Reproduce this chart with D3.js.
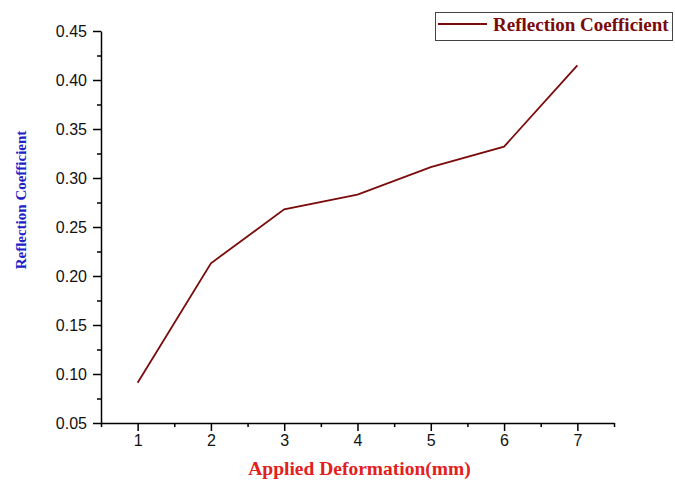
<!DOCTYPE html>
<html>
<head>
<meta charset="utf-8">
<script src="https://cdn.jsdelivr.net/npm/d3@7"></script>
<style>
  body { margin: 0; background: #fff; }
  svg { display: block; }
</style>
</head>
<body>
<script>
// data
const deformation = [1, 2, 3, 4, 5, 6, 7];
const reflection = [0.091, 0.213, 0.268, 0.283, 0.311, 0.332, 0.415];
const yTicks = [0.05, 0.10, 0.15, 0.20, 0.25, 0.30, 0.35, 0.40, 0.45];
const seriesName = "Reflection Coefficient";

const canvWidth = 675, canvHeight = 484;

const svg = d3.select("body").append("svg")
    .attr("width", canvWidth)
    .attr("height", canvHeight);

// plot area in pixels
const margin = {top: 31, right: 61, bottom: 61, left: 101};
const width = canvWidth - margin.left - margin.right;
const height = canvHeight - margin.top - margin.bottom;

const g = svg.append("g")
    .attr("transform", "translate(" + margin.left + "," + margin.top + ")");

const xScale = d3.scaleLinear().domain([0.5, 7.5]).range([0, width]);
const yScale = d3.scaleLinear().domain([0.05, 0.45]).range([height, 0]);

// minor ticks (halfway between majors)
const xMinor = d3.range(0.5, 7.51, 1);
const yMinor = d3.range(0.075, 0.45, 0.05);

g.append("g")
    .attr("transform", "translate(0," + height + ")")
    .call(d3.axisBottom(xScale).tickValues(xMinor).tickSize(4).tickFormat(""))
    .call(a => a.select(".domain").remove());

g.append("g")
    .call(d3.axisLeft(yScale).tickValues(yMinor).tickSize(4).tickFormat(""))
    .call(a => a.select(".domain").remove());

const xAxis = g.append("g")
    .attr("transform", "translate(0," + height + ")")
    .call(d3.axisBottom(xScale).tickValues(deformation).tickSize(8).tickSizeOuter(0).tickPadding(4).tickFormat(d3.format("d")));

const yAxis = g.append("g")
    .call(d3.axisLeft(yScale).tickValues(yTicks).tickSize(8).tickSizeOuter(0).tickPadding(6).tickFormat(d3.format(".2f")));

[xAxis, yAxis].forEach(a => {
  a.selectAll("path, line").attr("stroke", "#000").attr("stroke-width", 1.5);
  a.selectAll("text")
      .attr("fill", "#111")
      .attr("font-family", "Liberation Sans, Arial, sans-serif")
      .attr("font-size", "16px");
});
g.selectAll(".tick line").attr("stroke", "#000").attr("stroke-width", 1.5);

// the data line
const line = d3.line()
    .x((d, i) => xScale(deformation[i]))
    .y(d => yScale(d));

g.append("path")
    .datum(reflection)
    .attr("fill", "none")
    .attr("stroke", "#7b0a0a")
    .attr("stroke-width", 1.8)
    .attr("d", line);

// axis titles
svg.append("text")
    .attr("x", margin.left + width / 2 + 2)
    .attr("y", 475)
    .attr("text-anchor", "middle")
    .attr("font-family", "Liberation Serif, Times New Roman, serif")
    .attr("font-weight", "bold")
    .attr("font-size", "19.5px")
    .attr("fill", "#e3201c")
    .text("Applied Deformation(mm)");

svg.append("text")
    .attr("transform", "translate(26,200) rotate(-90)")
    .attr("text-anchor", "middle")
    .attr("font-family", "Liberation Serif, Times New Roman, serif")
    .attr("font-weight", "bold")
    .attr("font-size", "15px")
    .attr("fill", "#2121c8")
    .text("Reflection Coefficient");

// legend
const legend = svg.append("g");
legend.append("rect")
    .attr("x", 435.5).attr("y", 12.5)
    .attr("width", 237).attr("height", 28)
    .attr("fill", "#fff")
    .attr("stroke", "#444")
    .attr("stroke-width", 1);
legend.append("line")
    .attr("x1", 438).attr("x2", 487)
    .attr("y1", 24).attr("y2", 24)
    .attr("stroke", "#7b0a0a")
    .attr("stroke-width", 1.8);
legend.append("text")
    .attr("x", 493).attr("y", 31)
    .attr("font-family", "Liberation Serif, Times New Roman, serif")
    .attr("font-weight", "bold")
    .attr("font-size", "19px")
    .attr("fill", "#7b0a0a")
    .text(seriesName);
</script>
</body>
</html>
